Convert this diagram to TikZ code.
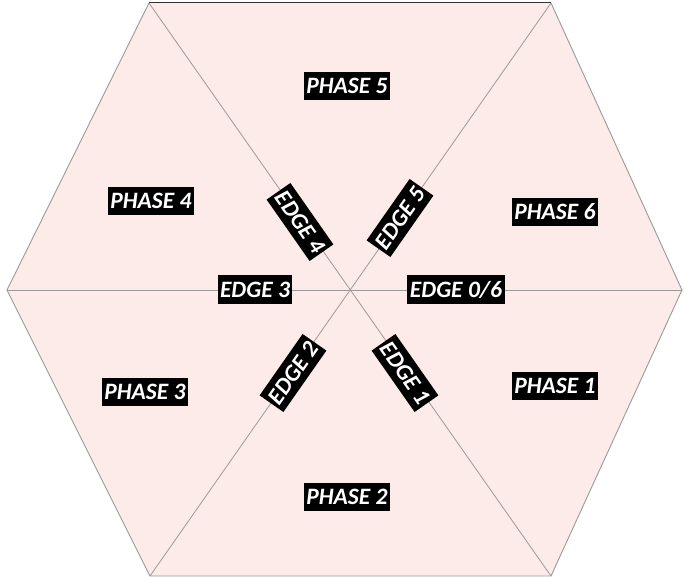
\documentclass[tikz,border=0pt]{standalone}
\usepackage{fontspec}
\setmainfont{Carlito}
\usepackage{tikz}
\usetikzlibrary{positioning}
\definecolor{sector}{HTML}{FCEBE8}
\definecolor{spoke}{HTML}{9A9A9A}

\begin{document}
\begin{tikzpicture}[x=1pt,y=1pt,every node/.style={font=\fontsize{23.5}{25}\selectfont\bfseries\itshape}]
      \tikzstyle{phase}=[fill=black,text=white,inner xsep=2.5pt,inner ysep=2pt,
                       minimum height=28pt];
      \tikzstyle{edgelbl}=[phase,minimum height=29pt];
      \useasboundingbox (-350,-287) rectangle (334,290);
      % hexagon corners
      \coordinate (c)  at (0,0);
      \coordinate (tl) at (-201,287);
      \coordinate (tr) at (201,287);
      \coordinate (r)  at (332,0);
      \coordinate (br) at (201,-286);
      \coordinate (bl) at (-200,-286);
      \coordinate (l)  at (-343,0);
      \fill[sector] (tl) -- (tr) -- (r) -- (br) -- (bl) -- (l) -- cycle;
      \draw[spoke,line width=0.9pt] (tr) -- (r) -- (br) -- (bl) -- (l) -- (tl);
      \draw[black!80,line width=1pt] (tl) -- (tr);
      \draw[spoke,line width=0.8pt] (tl) -- (br);
      \draw[spoke,line width=0.8pt] (tr) -- (bl);
      \draw[spoke,line width=0.8pt] (l) -- (r);
      % phases
      \node[phase] (ph5) at (-3,204)   {PHASE 5};
      \node[phase] (ph6) at (205,78)   {PHASE 6};
      \node[phase] (ph4) at (-199,89)  {PHASE 4};
      \node[phase] (ph3) at (-205,-102) {PHASE 3};
      \node[phase] (ph1) at (205,-96)  {PHASE 1};
      \node[phase] (ph2) at (-3,-207)  {PHASE 2};
      % edges
      \node[edgelbl] (e3) at (-95,0)  {EDGE 3};
      \node[edgelbl] (e0) at (106,0)  {EDGE 0/6};
      \node[edgelbl,rotate=-55] (e4) at (-50,68)  {EDGE 4};
      \node[edgelbl,rotate=55]  (e5) at (50,72)   {EDGE 5};
      \node[edgelbl,rotate=55]  (e2) at (-57,-83) {EDGE 2};
      \node[edgelbl,rotate=-55] (e1) at (55,-83)  {EDGE 1};
    \end{tikzpicture}
\end{document}
